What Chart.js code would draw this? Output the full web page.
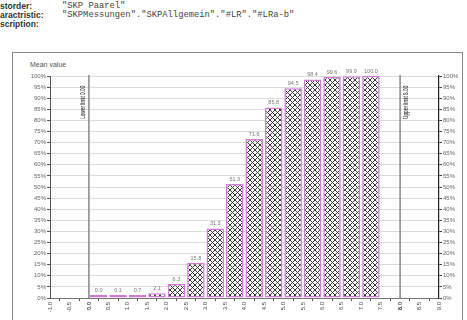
<!DOCTYPE html>
<html>
<head>
<meta charset="utf-8">
<script src="https://cdn.jsdelivr.net/npm/chart.js@4.4.0/dist/chart.umd.min.js"></script>
<style>
  html, body { margin: 0; padding: 0; background: #fff; }
  body { width: 467px; height: 320px; position: relative; overflow: hidden; }
  .hdr { position: absolute; left: 0; font: bold 8.5px "Liberation Sans", Arial, sans-serif; color: #333; }
  .val { position: absolute; left: 62px; font: 8.8px "Liberation Mono", monospace; color: #444; white-space: nowrap; }
  #frame { position: absolute; left: 12px; top: 52px; width: 449px; height: 290px; border: 1px solid #888; }
  #meanTitle { position: absolute; left: 30px; top: 61px; font: 7px "Liberation Sans", Arial, sans-serif; color: #555; }
  #chartBox { position: absolute; left: 0; top: 0; width: 467px; height: 320px; }
</style>
</head>
<body>
<div class="hdr" style="top:1px">storder:</div><div class="val" style="top:1px">"SKP Paarel"</div>
<div class="hdr" style="top:10px">aractristic:</div><div class="val" style="top:10px">"SKPMessungen"."SKPAllgemein"."#LR"."#LRa-b"</div>
<div class="hdr" style="top:19px">scription:</div>
<div id="frame"></div>
<div id="meanTitle">Mean value</div>
<div id="chartBox"><canvas id="histChart" width="467" height="320"></canvas></div>
<script>
const xTickLabels = ["-1.0", "-0.5", "0.0", "0.5", "1.0", "1.5", "2.0", "2.5", "3.0", "3.5", "4.0",
  "4.5", "5.0", "5.5", "6.0", "6.5", "7.0", "7.5", "8.0", "8.5", "9.0"]
const classMid = [0.25, 0.75, 1.25, 1.75, 2.25, 2.75, 3.25, 3.75, 4.25, 4.75, 5.25, 5.75, 6.25, 6.75, 7.25]
const cumPercent = [0.0, 0.1, 0.7, 2.1, 6.3, 15.8, 31.3, 51.3, 71.6, 85.8, 94.5, 98.4, 99.6, 99.9, 100.0]
const lowerLimit = 0.0
const upperLimit = 8.0
const limitTexts = ["Lower limit 0.00", "Upper limit 8.00"]

// crosshatch fill like the original report
function hatch() {
  const c = document.createElement("canvas")
  c.width = 5
  c.height = 5
  const g = c.getContext("2d")
  g.fillStyle = "#fff"
  g.fillRect(0, 0, 5, 5)
  g.strokeStyle = "#3a3a3a"
  g.lineWidth = 1
  g.beginPath()
  g.moveTo(-1, -1); g.lineTo(6, 6)
  g.moveTo(6, -1); g.lineTo(-1, 6)
  g.stroke()
  return g.createPattern(c, "repeat")
}

const overlay = {
  id: "overlay",
  afterDatasetsDraw(chart) {
    const { ctx, chartArea, scales: { x } } = chart
    const meta = chart.getDatasetMeta(0)
    ctx.save()
    ctx.font = '5.5px "Liberation Sans", Arial, sans-serif'
    ctx.fillStyle = "#777"
    ctx.textAlign = "center"
    ctx.textBaseline = "bottom"
    meta.data.forEach((bar, i) => {
      ctx.fillText(cumPercent[i].toFixed(1), bar.x, bar.y - 2)
    })

    const lims = [lowerLimit, upperLimit]
    lims.forEach((v, i) => {
      const px = x.getPixelForValue(v)
      ctx.strokeStyle = "#888"
      ctx.lineWidth = 1.5
      ctx.beginPath()
      ctx.moveTo(px, chartArea.top - 1)
      ctx.lineTo(px, chartArea.bottom)
      ctx.stroke()

      ctx.save()
      const tx = i === 0 ? px - 6 : px + 6
      ctx.translate(tx, chartArea.top + 43)
      ctx.rotate(-Math.PI / 2)
      ctx.scale(0.68, 1)
      ctx.font = '7px "Liberation Sans", Arial, sans-serif'
      ctx.fillStyle = "#222"
      ctx.textAlign = "left"
      ctx.textBaseline = "middle"
      ctx.fillText(limitTexts[i], 0, 0)
      ctx.restore()
    })
    ctx.restore()
  }
}

const ctx = document.getElementById("histChart").getContext("2d")
new Chart(ctx, {
  type: "bar",
  data: {
    datasets: [{
      data: classMid.map((m, i) => ({ x: m, y: cumPercent[i] })),
      backgroundColor: hatch(),
      borderColor: "#d07ad8",
      borderWidth: 1.5,
      borderSkipped: false,
      minBarLength: 3,
      barPercentage: 0.9,
      categoryPercentage: 1.0,
      yAxisID: "y"
    }]
  },
  options: {
    responsive: false,
    animation: false,
    layout: { padding: { top: 76, left: 0, right: 0, bottom: 0 } },
    plugins: { legend: { display: false }, tooltip: { enabled: false } },
    scales: {
      x: {
        type: "linear",
        min: -1,
        max: 9,
        offset: false,
        afterFit: (s) => { s.height = 22 },
        border: { color: "#777" },
        grid: { drawOnChartArea: false, drawTicks: true, tickLength: 3, tickColor: "#555" },
        ticks: {
          stepSize: 0.5,
          autoSkip: false,
          minRotation: 90,
          maxRotation: 90,
          padding: 1,
          color: "#444",
          font: (c) => ({ size: 6, family: "Liberation Sans", weight: (c.index === 2 || c.index === 18) ? "bold" : "normal" }),
          callback: (v, i) => xTickLabels[i]
        }
      },
      y: {
        position: "left",
        min: 0,
        max: 100,
        afterFit: (s) => { s.width = 50 },
        border: { color: "#555" },
        grid: { color: "#dcdcdc", tickLength: 3, tickColor: "#555" },
        ticks: { stepSize: 5, padding: 1, color: "#666", font: { size: 6, family: "Liberation Sans" }, callback: (v) => v + "%" }
      },
      y2: {
        position: "right",
        min: 0,
        max: 100,
        afterFit: (s) => { s.width = 28 },
        border: { color: "#222", width: 1.2 },
        grid: { drawOnChartArea: false, tickLength: 3, tickColor: "#444" },
        ticks: { stepSize: 5, padding: 1, color: "#666", font: { size: 6, family: "Liberation Sans" }, callback: (v) => v + "%" }
      }
    }
  },
  plugins: [overlay]
})
</script>
</body>
</html>
